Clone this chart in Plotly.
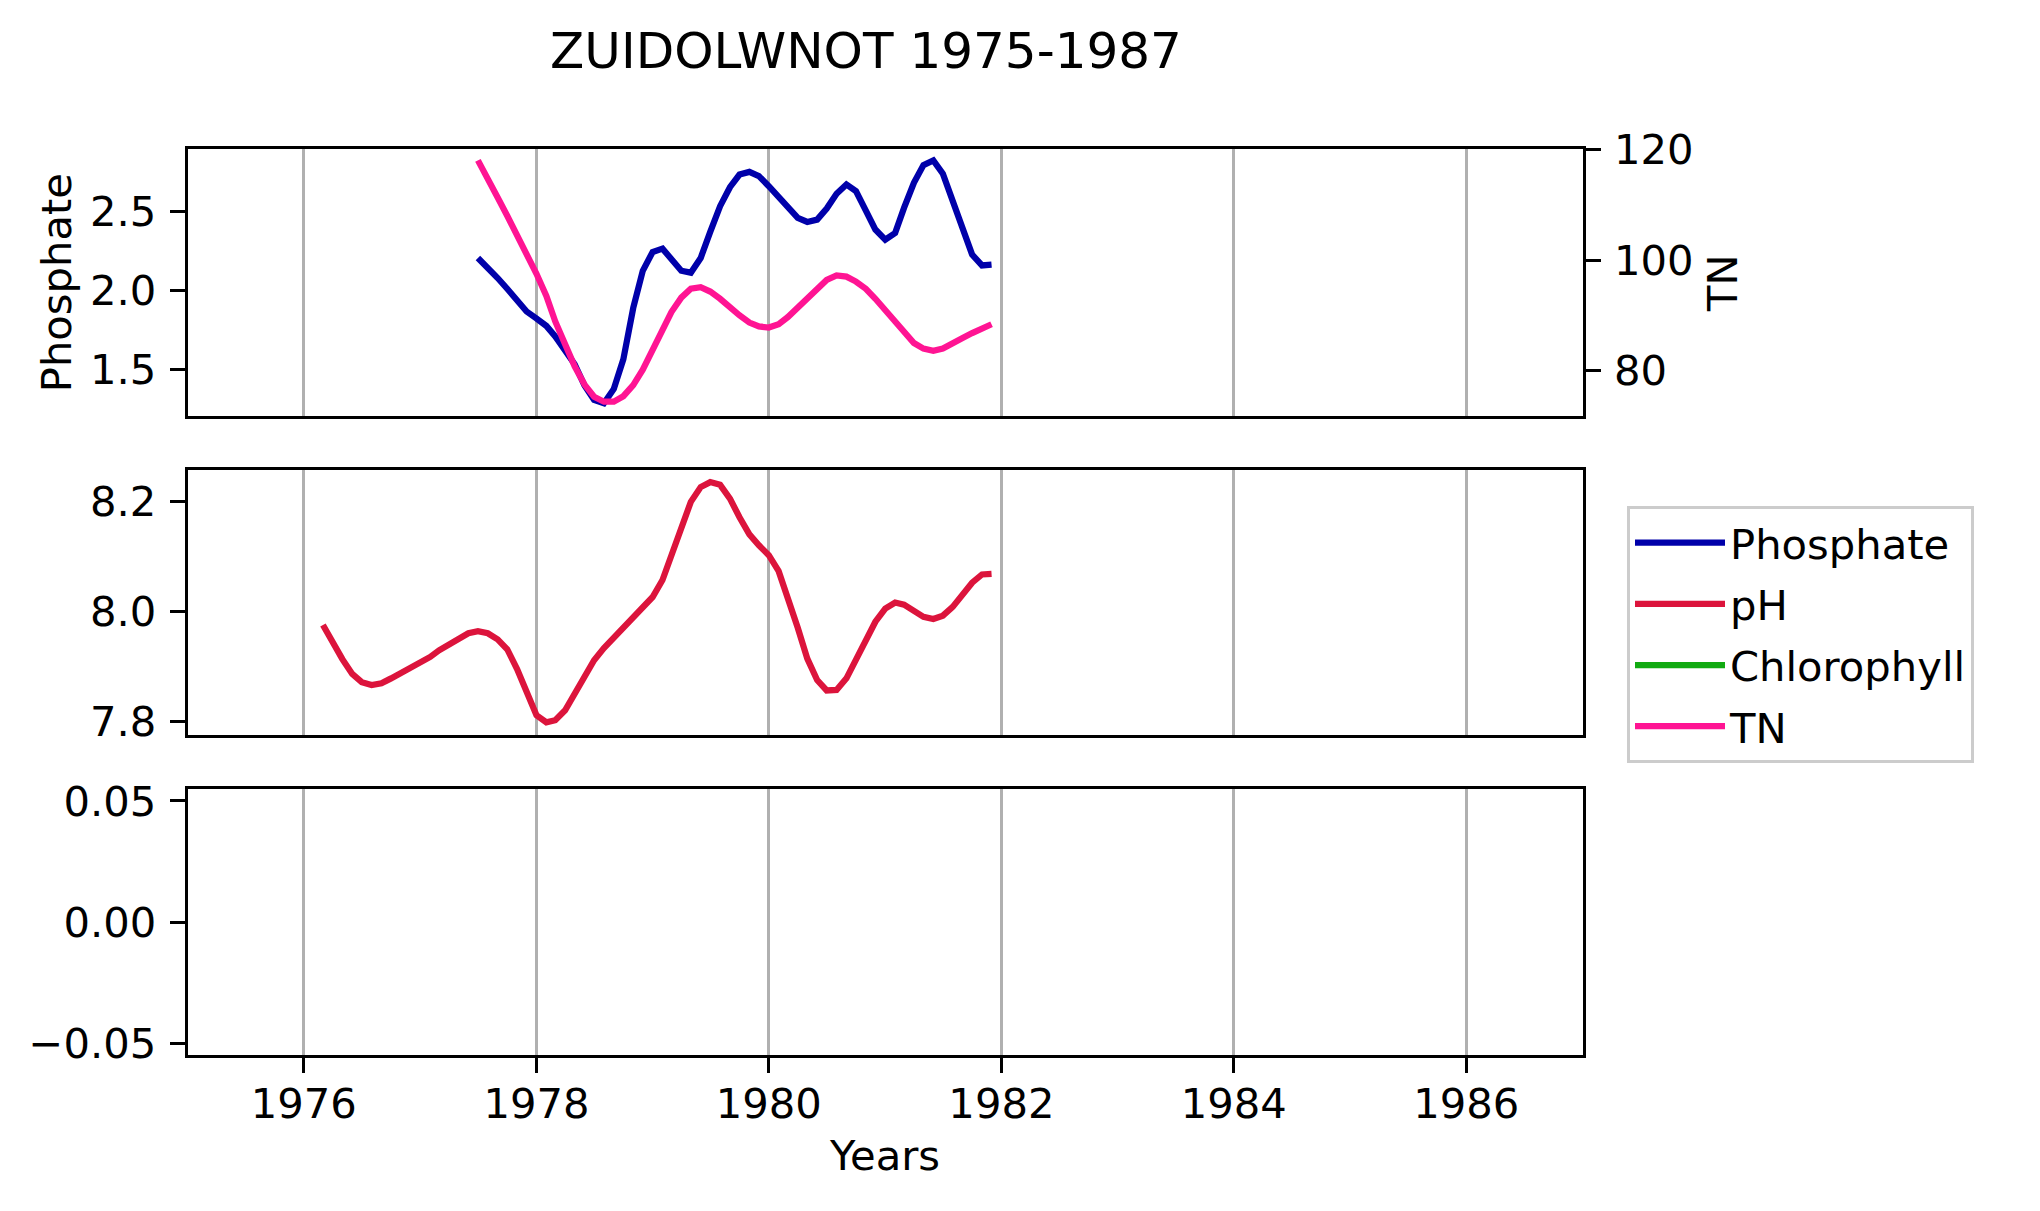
"""
ZUIDOLWNOT 1975-1987: phosphate / TN, pH and chlorophyll in three stacked panels.
"""

import pandas as pd
import plotly.graph_objects as go

TITLE = "ZUIDOLWNOT 1975-1987"
X_RANGE = ["1975-01-01", "1987-01-01"]

# monthly series (month starts)
PHOSPHATE_START = "1977-07-01"
PHOSPHATE = [
    2.203, 2.146, 2.076, 2.008, 1.938, 1.864, 1.820, 1.773, 1.706, 1.621,
    1.530, 1.395, 1.304, 1.283, 1.374, 1.562, 1.886, 2.122, 2.241, 2.262,
    2.192, 2.122, 2.110, 2.203, 2.368, 2.531, 2.651, 2.731, 2.748, 2.721,
    2.657, 2.588, 2.516, 2.457, 2.431, 2.446, 2.516, 2.609, 2.668, 2.626,
    2.503, 2.383, 2.319, 2.361, 2.520, 2.679, 2.791, 2.820, 2.736, 2.558,
    2.368, 2.224, 2.156, 2.161,
]

TN_START = "1977-07-01"
TN = [
    118.0, 114.9, 111.3, 108.0, 104.5, 101.0, 97.5, 93.5, 88.9, 84.8,
    80.8, 77.5, 75.3, 74.4, 74.4, 75.4, 77.4, 80.2, 83.6, 87.1,
    90.6, 93.2, 94.8, 95.1, 94.3, 93.0, 91.4, 90.0, 88.7, 88.0,
    87.8, 88.4, 89.7, 91.4, 93.1, 94.9, 96.4, 97.2, 97.0, 96.1,
    94.8, 93.0, 91.0, 88.9, 86.8, 85.0, 84.0, 83.6, 84.0, 84.8,
    85.9, 86.8, 87.7, 88.4,
]

PH_START = "1976-03-01"
PH = [
    7.976, 7.944, 7.914, 7.887, 7.872, 7.867, 7.870, 7.879, 7.889, 7.896,
    7.906, 7.918, 7.930, 7.941, 7.952, 7.961, 7.965, 7.961, 7.950, 7.932,
    7.896, 7.852, 7.812, 7.799, 7.803, 7.821, 7.852, 7.884, 7.912, 7.934,
    7.953, 7.971, 7.990, 8.009, 8.027, 8.058, 8.102, 8.155, 8.200, 8.227,
    8.236, 8.231, 8.206, 8.172, 8.141, 8.121, 8.103, 8.074, 8.027, 7.971,
    7.915, 7.876, 7.857, 7.858, 7.879, 7.912, 7.950, 7.982, 8.006, 8.017,
    8.013, 8.001, 7.991, 7.987, 7.993, 8.009, 8.030, 8.053, 8.068, 8.069,
]

# no usable chlorophyll measurements in this period
CHLOROPHYLL_DATES = ["1976-01-01"]
CHLOROPHYLL = [None]

COLORS = {
    "Phosphate": "#0000aa",
    "pH": "#dc143c",
    "Chlorophyll": "#11aa11",
    "TN": "#ff1493",
}

W, H = 2040, 1211
OFF = 8  # page body margin around the plot div
FONT = "DejaVu Sans"
FS = 41.7
LW = 6.25
SPINE = 3.3


def px_x(v):
    return (v - OFF) / (W - 2 * OFF)


def px_y(v):
    return 1 - (v - OFF) / (H - 2 * OFF)


def months(start, n):
    return pd.date_range(start, periods=n, freq="MS")


fig = go.Figure()

fig.add_trace(go.Scatter(
    x=months(PHOSPHATE_START, len(PHOSPHATE)), y=PHOSPHATE, name="Phosphate",
    mode="lines", line=dict(color=COLORS["Phosphate"], width=LW),
    xaxis="x", yaxis="y", legendgroup="a",
))
fig.add_trace(go.Scatter(
    x=months(PH_START, len(PH)), y=PH, name="pH",
    mode="lines", line=dict(color=COLORS["pH"], width=LW),
    xaxis="x2", yaxis="y3", legendgroup="b",
))
fig.add_trace(go.Scatter(
    x=CHLOROPHYLL_DATES, y=CHLOROPHYLL, name="Chlorophyll",
    mode="lines", line=dict(color=COLORS["Chlorophyll"], width=LW),
    xaxis="x3", yaxis="y4", legendgroup="c",
))
fig.add_trace(go.Scatter(
    x=months(TN_START, len(TN)), y=TN, name="TN",
    mode="lines", line=dict(color=COLORS["TN"], width=LW),
    xaxis="x", yaxis="y2", legendgroup="d",
))

x_dom = [px_x(187.7), px_x(1582.5)]
top_dom = [px_y(416), px_y(149.3)]
mid_dom = [px_y(735), px_y(470)]
bot_dom = [px_y(1055), px_y(789.3)]

tick_font = dict(family=FONT, size=FS, color="black")
common_x = dict(
    type="date", range=X_RANGE, domain=x_dom,
    dtick="M24", tick0="1976-01-01", tickformat="%Y",
    showgrid=True, gridcolor="#b0b0b0", gridwidth=SPINE,
    showline=True, linecolor="black", linewidth=SPINE, mirror=True,
    zeroline=False, automargin=False, tickfont=tick_font,
)
common_y = dict(
    showgrid=False, zeroline=False, automargin=False,
    showline=True, linecolor="black", linewidth=SPINE, mirror=True,
    ticks="outside", ticklen=15, tickwidth=SPINE, tickcolor="black",
    tickfont=tick_font, ticklabelstandoff=5,
)

fig.update_layout(
    width=W - 2 * OFF, height=H - 2 * OFF,
    margin=dict(l=0, r=0, t=0, b=0),
    paper_bgcolor="white", plot_bgcolor="white",
    font=dict(family=FONT, size=FS, color="black"),
    showlegend=True,
    xaxis=dict(common_x, anchor="y", matches="x3", showticklabels=False, ticks=""),
    xaxis2=dict(common_x, anchor="y3", matches="x3", showticklabels=False, ticks=""),
    xaxis3=dict(
        common_x, anchor="y4", ticks="outside", ticklen=15,
        tickwidth=SPINE, tickcolor="black", ticklabelstandoff=-5,
        title=dict(text="Years", font=dict(family=FONT, size=FS), standoff=14),
    ),
    yaxis=dict(
        common_y, domain=top_dom, anchor="x", range=[1.2025, 2.891],
        tickvals=[1.5, 2.0, 2.5], tickformat=".1f",
        title=dict(text="Phosphate", font=dict(family=FONT, size=FS), standoff=6),
    ),
    yaxis2=dict(
        common_y, overlaying="y", side="right", anchor="x", range=[71.82, 120.0],
        tickvals=[80, 100, 120],
        title=dict(text="TN", font=dict(family=FONT, size=FS), standoff=16),
    ),
    yaxis3=dict(
        common_y, domain=mid_dom, anchor="x2", range=[7.776, 8.258],
        tickvals=[7.8, 8.0, 8.2], tickformat=".1f",
    ),
    yaxis4=dict(
        common_y, domain=bot_dom, anchor="x3", range=[-0.0548, 0.0548],
        tickvals=[-0.05, 0.0, 0.05], tickformat=".2f",
    ),
    legend=dict(
        x=px_x(1627), y=px_y(506), xanchor="left", yanchor="top",
        bgcolor="white", bordercolor="#cccccc", borderwidth=3,
        itemwidth=90, tracegroupgap=4,
        font=dict(family=FONT, size=FS, color="black"),
    ),
    title=dict(
        text=TITLE, x=px_x(866), xanchor="center",
        y=px_y(50), yanchor="middle", yref="paper",
        font=dict(family=FONT, size=50, color="black"),
    ),
)

fig.write_html("out.html")
